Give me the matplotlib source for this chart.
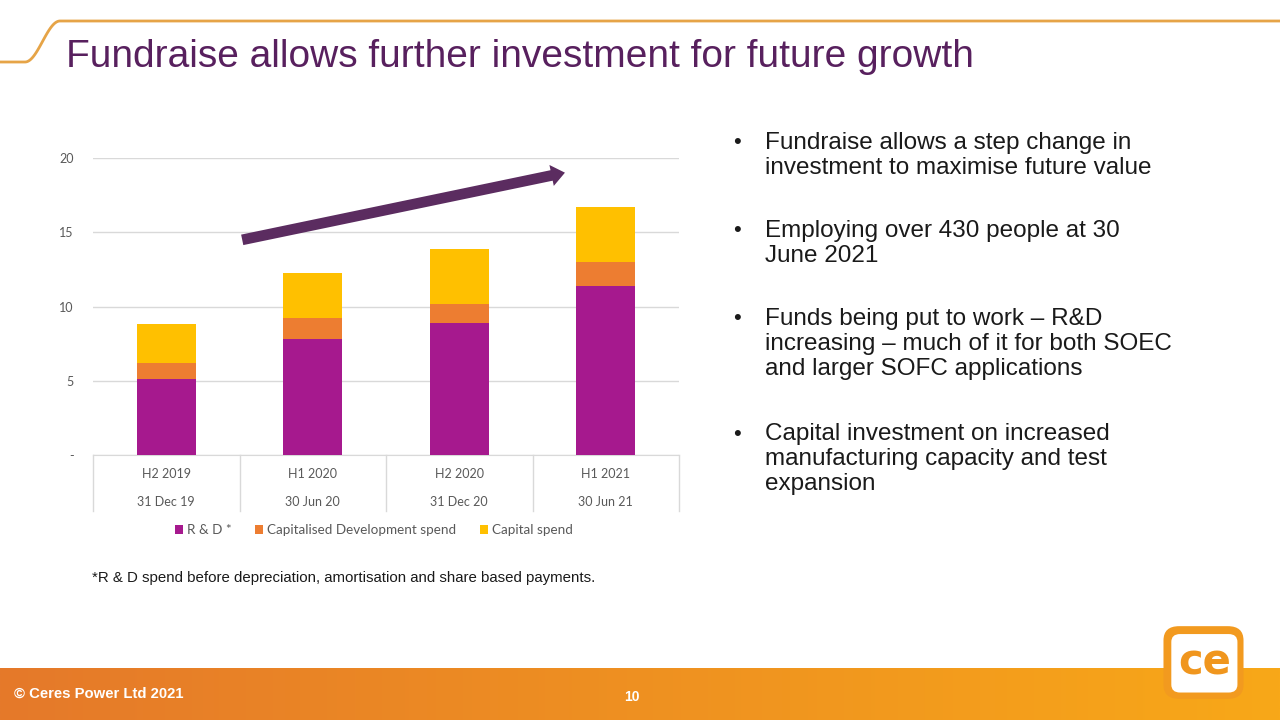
import matplotlib
matplotlib.use("Agg")
import matplotlib.pyplot as plt
import numpy as np
from matplotlib.patches import FancyBboxPatch
from matplotlib.lines import Line2D

periods = ["H2 2019", "H1 2020", "H2 2020", "H1 2021"]
dates = ["31 Dec 19", "30 Jun 20", "31 Dec 20", "30 Jun 21"]
rd = [5.1, 7.8, 8.9, 11.4]
cap_dev = [1.1, 1.45, 1.25, 1.6]
capital = [2.6, 3.0, 3.7, 3.7]
series_names = ["R & D *", "Capitalised Development spend", "Capital spend"]
colors = ["#A6198E", "#ED7D31", "#FFC000"]
yticks = [0, 5, 10, 15, 20]
ytick_labels = ["-", "5", "10", "15", "20"]

title = "Fundraise allows further investment for future growth"
bullets = [
    ["Fundraise allows a step change in", "investment to maximise future value"],
    ["Employing over 430 people at 30", "June 2021"],
    ["Funds being put to work \u2013 R&D", "increasing \u2013 much of it for both SOEC", "and larger SOFC applications"],
    ["Capital investment on increased", "manufacturing capacity and test", "expansion"],
]
bullet_y = [143, 231, 319, 434]
footnote = "*R & D spend before depreciation, amortisation and share based payments."

W, H = 1280, 720
fig = plt.figure(figsize=(12.8, 7.2), dpi=100)
fig.patch.set_facecolor("white")

def fx(px):
    return px / W

def fy(py):
    return 1 - py / H

# Footer gradient band
axf = fig.add_axes([0, 0, 1, 52 / H])
grad = np.linspace(0, 1, 512)
c0 = np.array([0xE5, 0x79, 0x2A]) / 255
c1 = np.array([0xF8, 0xA8, 0x18]) / 255
img = (c0[None, :] * (1 - grad[:, None]) + c1[None, :] * grad[:, None])[None, :, :]
axf.imshow(img, aspect="auto", extent=[0, 1, 0, 1])
axf.set_axis_off()

# top decorative line
t = np.linspace(0, 1, 50)
xs = [0, 25]
ys = [62, 62]
for s in t:
    xs.append(25 + 35 * s)
    ys.append(62 - 41 * (0.5 - 0.5 * np.cos(np.pi * s)))
xs += [1280]
ys += [21]
fig.add_artist(Line2D([fx(x) for x in xs], [fy(y) for y in ys], color="#E6A447", lw=2.0))

# Title
fig.text(fx(66), fy(57), title, fontsize=28, color="#58205E", family="Liberation Sans",
         va="center", ha="left")

# Chart axes
ax = fig.add_axes([fx(93), fy(455), fx(679) - fx(93), (455 - 158) / H])
x = np.arange(len(periods))
bw = 0.40
ax.bar(x, rd, bw, color=colors[0], label=series_names[0], zorder=3)
ax.bar(x, cap_dev, bw, bottom=rd, color=colors[1], label=series_names[1], zorder=3)
bottom2 = [a + b for a, b in zip(rd, cap_dev)]
ax.bar(x, capital, bw, bottom=bottom2, color=colors[2], label=series_names[2], zorder=3)
ax.set_xlim(-0.5, len(periods) - 0.5)
ax.set_ylim(0, 20)
ax.set_yticks(yticks)
ax.set_yticklabels(ytick_labels, fontsize=9, color="#595959", family="Lato")
ax.tick_params(axis="y", length=0, pad=14)
ax.set_xticks([])
ax.yaxis.grid(True, color="#D9D9D9", lw=1, zorder=0)
for sp in ["top", "right", "left"]:
    ax.spines[sp].set_visible(False)
ax.spines["bottom"].set_color("#D9D9D9")
ax.set_facecolor("none")

# category table below
trans = ax.get_xaxis_transform()
sep_depth = (511 - 455) / (455 - 158)
for b in np.arange(len(periods) + 1) - 0.5:
    ax.plot([b, b], [0, -sep_depth], transform=trans, color="#D9D9D9", lw=1, clip_on=False)
for i, (p, d) in enumerate(zip(periods, dates)):
    ax.text(i, -(474 - 455) / 297, p, transform=trans, ha="center", va="center",
            fontsize=9, color="#595959", family="Lato")
    ax.text(i, -(502 - 455) / 297, d, transform=trans, ha="center", va="center",
            fontsize=9, color="#595959", family="Lato")

# trend arrow
ax.annotate("", xy=(2.74, 19.05), xytext=(0.50, 14.45),
            arrowprops=dict(arrowstyle="simple,head_length=0.7,head_width=1.1,tail_width=0.55",
                            color="#5B2C60", lw=0, mutation_scale=14), zorder=5)

# legend
leg = ax.legend(loc="center", bbox_to_anchor=(0.479, -(530 - 455) / 297), ncol=3, frameon=False,
                prop={"family": "Lato", "size": 9.7}, handlelength=0.6, handleheight=0.6,
                handletextpad=0.3, columnspacing=1.75)
for txt in leg.get_texts():
    txt.set_color("#595959")

# footnote
fig.text(fx(92), fy(578), footnote, fontsize=10.8, color="#1A1A1A", family="Liberation Sans",
         va="center", ha="left")

# bullets
for lines, y0 in zip(bullets, bullet_y):
    fig.text(fx(733), fy(y0), "\u2022", fontsize=16, color="#1A1A1A", family="Liberation Sans",
             va="center", ha="left")
    for k, line in enumerate(lines):
        fig.text(fx(765), fy(y0 + 25 * k), line, fontsize=17.5, color="#1A1A1A",
                 family="Liberation Sans", va="center", ha="left")

# footer text
fig.text(fx(14), fy(694), "\u00a9 Ceres Power Ltd 2021", fontsize=10.7, color="white",
         family="Liberation Sans", weight="bold", va="center", ha="left")
fig.text(fx(632), fy(697), "10", fontsize=10, color="white", family="Liberation Sans",
         weight="bold", va="center", ha="center")

# logo
axl = fig.add_axes([fx(1160), fy(702), fx(1247) - fx(1160), (702 - 623) / H])
axl.set_xlim(0, 1)
axl.set_ylim(0, 1)
axl.set_axis_off()
axl.add_patch(FancyBboxPatch((0.04, 0.04), 0.92, 0.92, boxstyle="round,pad=0,rounding_size=0.18",
                             fc="#F29A1F", ec="none"))
axl.add_patch(FancyBboxPatch((0.13, 0.12), 0.76, 0.74, boxstyle="round,pad=0,rounding_size=0.1",
                             fc="white", ec="none"))
axl.text(0.51, 0.50, "ce", fontsize=30, color="#F0961E", family="DejaVu Sans", weight="bold",
         ha="center", va="center")

fig.savefig("out.png", dpi=100, facecolor="white")
